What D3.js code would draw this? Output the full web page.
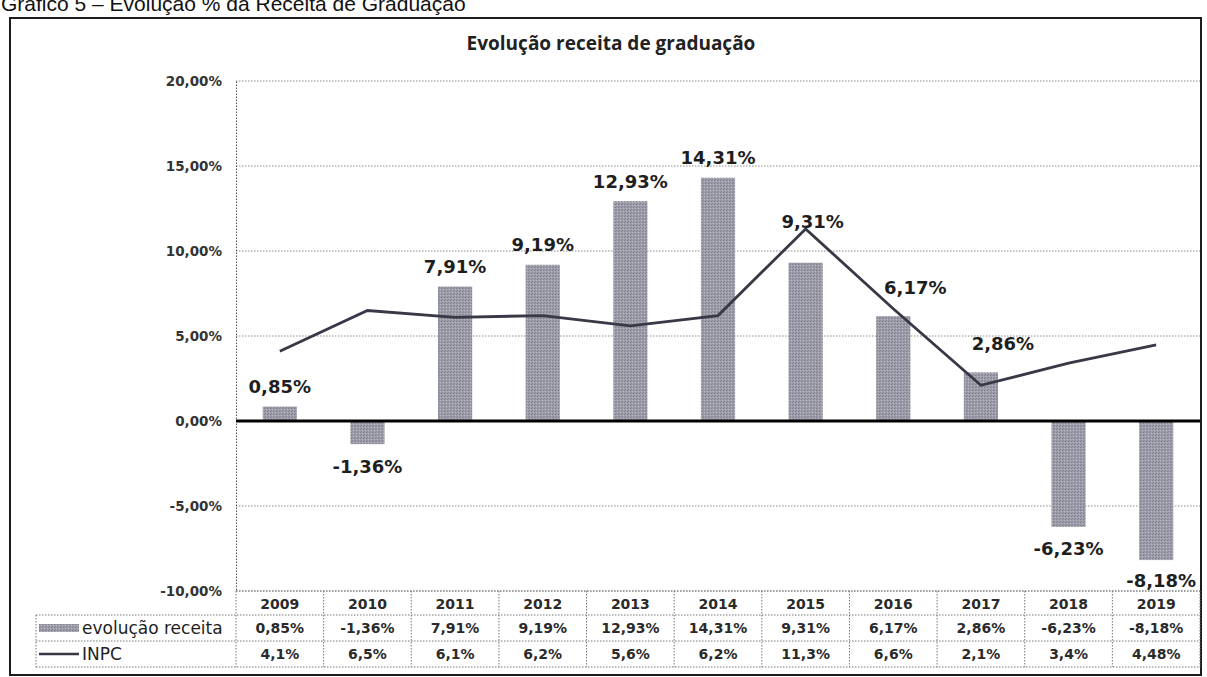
<!DOCTYPE html>
<html>
<head>
<meta charset="utf-8">
<script src="https://cdn.jsdelivr.net/npm/d3@7"></script>
<style>
  html, body { margin: 0; padding: 0; background: #fff; }
  svg { display: block; }
</style>
</head>
<body>
<svg id="chart" width="1207" height="677"></svg>
<script>
const years = ['2009', '2010', '2011', '2012', '2013', '2014', '2015', '2016', '2017', '2018', '2019']
const receita = [0.85, -1.36, 7.91, 9.19, 12.93, 14.31, 9.31, 6.17, 2.86, -6.23, -8.18]
const inpc = [4.1, 6.5, 6.1, 6.2, 5.6, 6.2, 11.3, 6.6, 2.1, 3.4, 4.48]
const yTicks = [20, 15, 10, 5, 0, -5, -10]
const seriesNames = ['evolução receita', 'INPC']

const svg = d3.select('#chart')
const width = 1207
const margin = {left: 236, right: 7, top: 81}
const pxPerPct = 17
const rowH = [24, 26, 26]

const loc = d3.formatLocale({decimal: ',', thousands: '.', grouping: [3], currency: ['R$', ''], minus: '-'})
const fmt2 = loc.format('.2f')
const pctRec = d => fmt2(d) + '%'
const pctInpc = d => String(d).replace('.', ',') + '%'

const x = d3.scaleBand()
    .domain(years)
    .range([margin.left, width - margin.right])
    .paddingInner(0.61)
    .paddingOuter(0.305)

const y = d3.scaleLinear()
    .domain([20, -10])
    .range([margin.top, margin.top + 30 * pxPerPct])

const cx = d => x(d) + x.bandwidth() / 2
const step = x.step()
const plotLeft = margin.left
const plotRight = width - margin.right
const tableTop = y(-10)

// halftone-ish fill for the bars
const defs = svg.append('defs')
const pat = defs.append('pattern')
    .attr('id', 'grain')
    .attr('width', 3).attr('height', 3)
    .attr('patternUnits', 'userSpaceOnUse')
pat.append('rect').attr('width', 3).attr('height', 3).attr('fill', '#9e9eab')
pat.append('rect').attr('x', 0).attr('y', 0).attr('width', 1).attr('height', 1).attr('fill', '#7c7c8a')
pat.append('rect').attr('x', 2).attr('y', 1).attr('width', 1).attr('height', 1).attr('fill', '#b8b8c2')
pat.append('rect').attr('x', 1).attr('y', 2).attr('width', 1).attr('height', 1).attr('fill', '#86869a')

// page heading, cut by the top edge like the scan
svg.append('text')
    .attr('x', 1)
    .attr('y', 11)
    .attr('font-family', 'Liberation Sans, Arial, sans-serif')
    .attr('font-size', '21px')
    .attr('fill', '#111')
    .text('Gráfico 5 – Evolução % da Receita de Graduação')

// outer chart frame
svg.append('rect')
    .attr('x', 10).attr('y', 18)
    .attr('width', 1191).attr('height', 657)
    .attr('fill', 'none')
    .attr('stroke', '#1c1c1c')
    .attr('stroke-width', 2)

svg.append('text')
    .attr('x', 611)
    .attr('y', 50)
    .attr('text-anchor', 'middle')
    .attr('font-family', 'Open Sans, sans-serif')
    .attr('font-weight', 700)
    .attr('font-size', '19px')
    .attr('fill', '#222')
    .text('Evolução receita de graduação')

// gridlines
svg.append('g')
    .selectAll('line')
    .data(yTicks.filter(d => d !== 0))
    .join('line')
    .attr('x1', plotLeft).attr('x2', plotRight)
    .attr('y1', d => y(d)).attr('y2', d => y(d))
    .attr('stroke', '#8a8a8a')
    .attr('stroke-width', 1)
    .attr('stroke-dasharray', '1.5,1.5')

// y axis
const yAxis = svg.append('g')
    .attr('transform', 'translate(' + plotLeft + ',0)')
    .call(d3.axisLeft(y).tickValues(yTicks).tickFormat(d => pctRec(d)).tickSize(0).tickPadding(14))
yAxis.select('.domain')
    .attr('stroke', '#555')
    .attr('stroke-dasharray', '1.5,1.5')
yAxis.selectAll('text')
    .attr('font-family', 'DejaVu Sans, Verdana, sans-serif')
    .attr('font-weight', 700)
    .attr('font-size', '13.5px')
    .attr('fill', '#333')

// bars
svg.append('g')
    .selectAll('rect')
    .data(years)
    .join('rect')
    .attr('x', d => x(d))
    .attr('width', x.bandwidth())
    .attr('y', (d, i) => y(Math.max(0, receita[i])))
    .attr('height', (d, i) => Math.abs(y(receita[i]) - y(0)))
    .attr('fill', 'url(#grain)')

// zero line
svg.append('line')
    .attr('x1', plotLeft).attr('x2', plotRight)
    .attr('y1', y(0)).attr('y2', y(0))
    .attr('stroke', '#000')
    .attr('stroke-width', 3)

// INPC line
const line = d3.line()
    .x((d, i) => cx(years[i]))
    .y(d => y(d))
svg.append('path')
    .datum(inpc)
    .attr('d', line)
    .attr('fill', 'none')
    .attr('stroke', '#383846')
    .attr('stroke-width', 2.8)

// bar data labels (a few were dragged off the bar in the original)
const labelShift = {'2015': [7, -21], '2016': [22, -9], '2017': [22, -9], '2019': [5, -2]}
svg.append('g')
    .selectAll('text')
    .data(years)
    .join('text')
    .attr('x', d => cx(d) + (labelShift[d] ? labelShift[d][0] : 0))
    .attr('y', (d, i) => (receita[i] >= 0 ? y(receita[i]) - 20 : y(receita[i]) + 22) + (labelShift[d] ? labelShift[d][1] : 0))
    .attr('dy', '0.36em')
    .attr('text-anchor', 'middle')
    .attr('font-family', 'DejaVu Sans, Verdana, sans-serif')
    .attr('font-weight', 700)
    .attr('font-size', '18px')
    .attr('fill', '#1e1e1e')
    .text((d, i) => pctRec(receita[i]))

// data table
const table = svg.append('g')
const r0 = tableTop, r1 = r0 + rowH[0], r2 = r1 + rowH[1], r3 = r2 + rowH[2]
const headLeft = 36
const cellStroke = g => g.attr('stroke', '#777').attr('stroke-width', 1).attr('stroke-dasharray', '1.5,1.5')

table.append('line').attr('x1', plotLeft).attr('x2', plotRight).attr('y1', r0).attr('y2', r0).call(cellStroke)
table.append('line').attr('x1', headLeft).attr('x2', plotRight).attr('y1', r1).attr('y2', r1).call(cellStroke)
table.append('line').attr('x1', headLeft).attr('x2', plotRight).attr('y1', r2).attr('y2', r2).call(cellStroke)
table.append('line').attr('x1', headLeft).attr('x2', plotRight).attr('y1', r3).attr('y2', r3).call(cellStroke)
table.append('line').attr('x1', headLeft).attr('x2', headLeft).attr('y1', r1).attr('y2', r3).call(cellStroke)
table.selectAll('.vsep')
    .data(years.concat(['end']))
    .join('line')
    .attr('class', 'vsep')
    .attr('x1', (d, i) => plotLeft + i * step)
    .attr('x2', (d, i) => plotLeft + i * step)
    .attr('y1', r0)
    .attr('y2', r3)
    .call(cellStroke)

const cellText = sel => sel
    .attr('text-anchor', 'middle')
    .attr('dy', '0.36em')
    .attr('font-family', 'DejaVu Sans, Verdana, sans-serif')
    .attr('font-size', '14px')
    .attr('font-weight', 700)
    .attr('fill', '#2a2a2a')

table.append('g').selectAll('text').data(years).join('text')
    .attr('x', d => cx(d)).attr('y', (r0 + r1) / 2 + 1)
    .call(cellText)
    .text(d => d)
table.append('g').selectAll('text').data(years).join('text')
    .attr('x', d => cx(d)).attr('y', (r1 + r2) / 2)
    .call(cellText)
    .text((d, i) => pctRec(receita[i]))
table.append('g').selectAll('text').data(years).join('text')
    .attr('x', d => cx(d)).attr('y', (r2 + r3) / 2)
    .call(cellText)
    .text((d, i) => pctInpc(inpc[i]))

// row headers with legend keys
table.append('rect')
    .attr('x', headLeft + 3).attr('y', (r1 + r2) / 2 - 4)
    .attr('width', 40).attr('height', 8)
    .attr('fill', 'url(#grain)')
table.append('line')
    .attr('x1', headLeft + 3).attr('x2', headLeft + 43)
    .attr('y1', (r2 + r3) / 2).attr('y2', (r2 + r3) / 2)
    .attr('stroke', '#383846').attr('stroke-width', 2.4)
table.append('g').selectAll('text').data(seriesNames).join('text')
    .attr('x', headLeft + 46)
    .attr('y', (d, i) => i === 0 ? (r1 + r2) / 2 : (r2 + r3) / 2)
    .attr('dy', '0.36em')
    .attr('font-family', 'DejaVu Sans, Verdana, sans-serif')
    .attr('font-size', '17px')
    .attr('fill', '#1e1e1e')
    .text(d => d)
</script>
</body>
</html>
